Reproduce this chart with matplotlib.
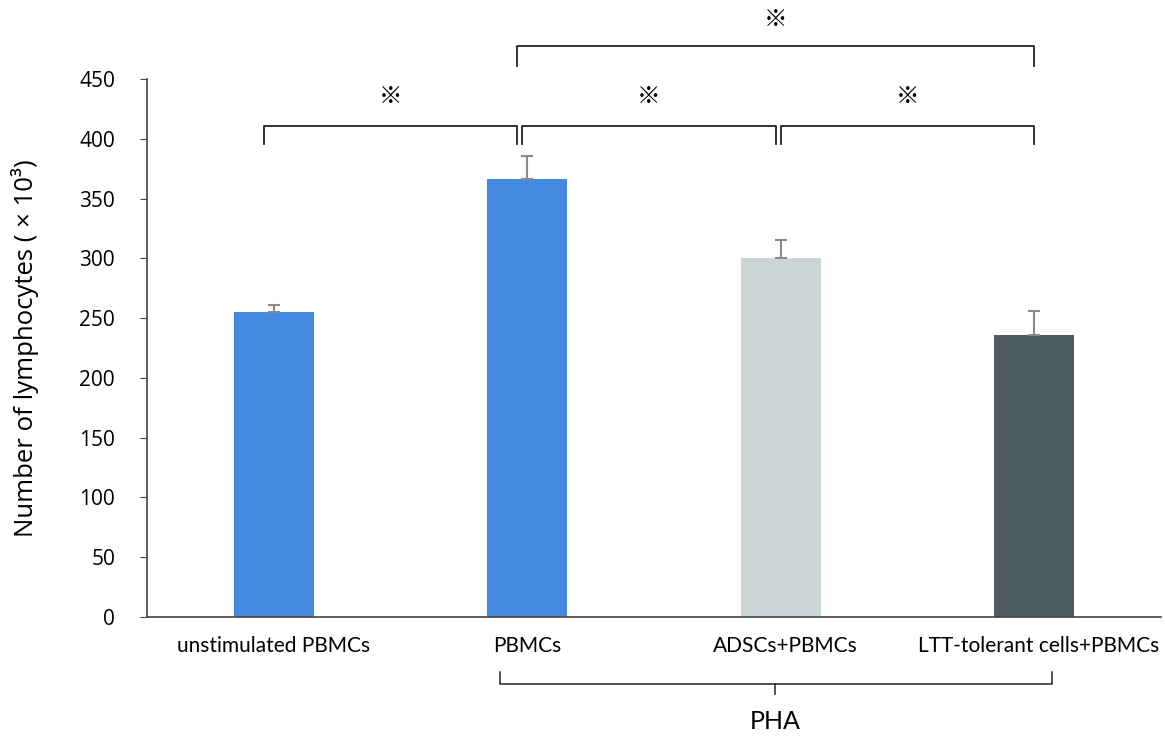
import matplotlib
matplotlib.use("Agg")
import matplotlib.pyplot as plt
import matplotlib.transforms as mtrans

categories = ["unstimulated PBMCs", "PBMCs", "ADSCs+PBMCs", "LTT-tolerant cells+PBMCs"]
values = [255, 366, 300, 236]
errors = [6, 20, 15, 20]
colors = ["#4689E0", "#4689E0", "#CCD5D6", "#4E5C62"]
yticks = [0, 50, 100, 150, 200, 250, 300, 350, 400, 450]

fig = plt.figure(figsize=(11.65, 7.41), dpi=100)
ax = fig.add_axes([0.1262, 0.1673, 0.8704, 0.7261])

x = list(range(len(categories)))
ax.bar(x, values, width=0.315, color=colors, zorder=2)
ax.errorbar(x, values, yerr=[[0]*len(errors), errors], fmt="none",
            ecolor="#8a8a8a", elinewidth=1.5, capsize=4, capthick=1.5, zorder=3)

ax.set_xlim(-0.5, 3.5)
ax.set_ylim(0, 450)
ax.set_yticks(yticks)
ax.set_yticklabels([str(t) for t in yticks], fontsize=15, family="Open Sans")
ax.set_xticks(x)
ax.set_xticklabels(categories, fontsize=15, family="Lato")
ax.tick_params(axis="x", length=0, pad=14)
ax.tick_params(axis="y", length=5, color="#444444", pad=18)
labs = ax.get_xticklabels()
labs[2].set_transform(labs[2].get_transform() + mtrans.ScaledTranslation(0.05, 0, fig.dpi_scale_trans))
labs[3].set_horizontalalignment("right")
labs[3].set_transform(labs[3].get_transform() + mtrans.ScaledTranslation(1.25, 0, fig.dpi_scale_trans))

for s in ["top", "right"]:
    ax.spines[s].set_visible(False)
for s in ["left", "bottom"]:
    ax.spines[s].set_color("#444444")
    ax.spines[s].set_linewidth(1.2)

ax.set_ylabel("Number of lymphocytes ( × 10³)", fontsize=18.5, family="Open Sans")
ax.yaxis.set_label_coords(-0.1065, 0.5)

# significance brackets
def bracket(x0, x1, ytop, ybot, label_y):
    ax.plot([x0, x0, x1, x1], [ybot, ytop, ytop, ybot], color="#222222", lw=1.3, clip_on=False)
    ax.text((x0 + x1) / 2, label_y, "※", ha="center", va="center", fontsize=17,
            family=["Noto Sans CJK JP", "DejaVu Sans"], clip_on=False)

bracket(-0.04, 0.96, 411, 396, 435)
bracket(0.98, 1.98, 411, 396, 435)
bracket(2.0, 3.0, 411, 396, 435)
bracket(0.96, 3.0, 478, 461, 500)

# PHA bracket below axis
tr = ax.get_xaxis_transform()
yb = -0.125
ax.plot([0.893, 0.893, 3.07, 3.07], [yb + 0.022, yb, yb, yb + 0.022], color="#222222", lw=1.1,
        transform=tr, clip_on=False)
ax.plot([1.977, 1.977], [yb, yb - 0.018], color="#222222", lw=1.1, transform=tr, clip_on=False)
ax.text(1.977, -0.195, "PHA", ha="center", va="center", fontsize=18,
        family="Lato", transform=tr)

fig.savefig("out.png", dpi=100)
